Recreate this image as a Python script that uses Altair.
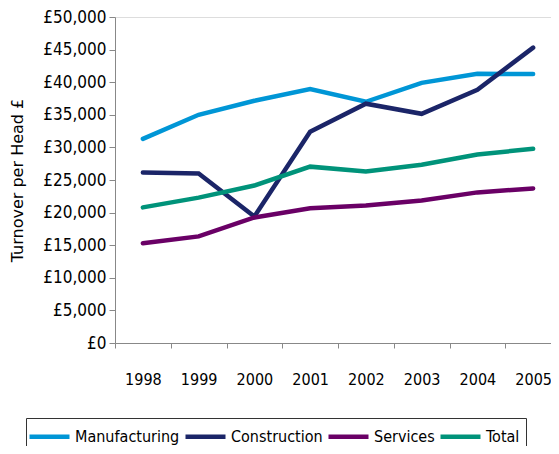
import altair as alt
import pandas as pd

years = ["1998", "1999", "2000", "2001", "2002", "2003", "2004", "2005"]
manufacturing = [31300, 35000, 37150, 38950, 37000, 39900, 41300, 41250]
construction = [26150, 26000, 19400, 32400, 36700, 35150, 38850, 45300]
services = [15300, 16350, 19250, 20650, 21100, 21850, 23100, 23700]
total = [20800, 22300, 24150, 27050, 26300, 27350, 28900, 29800]

series_names = ["Manufacturing", "Construction", "Services", "Total"]
series_colors = ["#0096D6", "#1B2568", "#6A0066", "#00937A"]

rows = []
for name, vals in zip(series_names, [manufacturing, construction, services, total]):
    for y, v in zip(years, vals):
        rows.append({"Year": y, "Value": v, "Series": name})
df = pd.DataFrame(rows)

FONT = "DejaVu Sans Condensed, DejaVu Sans, sans-serif"
TFONT = "DejaVu Sans, sans-serif"

chart = alt.Chart(df).mark_line(strokeWidth=4.5, strokeCap="round").encode(
    x=alt.X("Year:N", sort=years, title=None,
            scale=alt.Scale(paddingInner=0, paddingOuter=0, range=[0, 446]),
            axis=alt.Axis(labelAngle=0, tickBand="extent", labelPadding=23,
                          domainColor="#888888", tickColor="#888888", tickSize=5,
                          labelFont=FONT, labelFontSize=16, labelColor="#000000")),
    y=alt.Y("Value:Q", title="Turnover per Head £",
            scale=alt.Scale(domain=[0, 50000], nice=False),
            axis=alt.Axis(values=list(range(0, 50001, 5000)), format="$,.0f",
                          grid=False, domainColor="#888888", tickColor="#888888",
                          tickSize=6, labelPadding=3,
                          labelFont=FONT, labelFontSize=17, labelColor="#000000",
                          titleFont=TFONT, titleFontSize=16, titleFontWeight="normal",
                          titleColor="#000000", titlePadding=17)),
    color=alt.Color("Series:N", sort=series_names,
                    scale=alt.Scale(domain=series_names, range=series_colors),
                    legend=alt.Legend(title=None, orient="none", direction="horizontal",
                                      legendX=-89, legendY=401,
                                      symbolType="M-1.5,0H2.5", symbolStrokeWidth=4.5,
                                      symbolSize=400, labelFont=FONT, labelFontSize=16,
                                      labelColor="#000000", strokeColor="#333333",
                                      padding=6, columnPadding=-4, labelOffset=18,
                                      symbolOffset=0)),
).properties(
    width=436, height=326,
    autosize=alt.AutoSizeParams(type="none"),
    padding={"left": 107, "top": 9, "right": 0, "bottom": 103},
)

chart = chart.configure_view(stroke=None).configure(
    locale={"number": {"decimal": ".", "thousands": ",", "grouping": [3], "currency": ["£", ""]}}
)

chart.save("out.html", embed_options={"renderer": "svg", "actions": False})
